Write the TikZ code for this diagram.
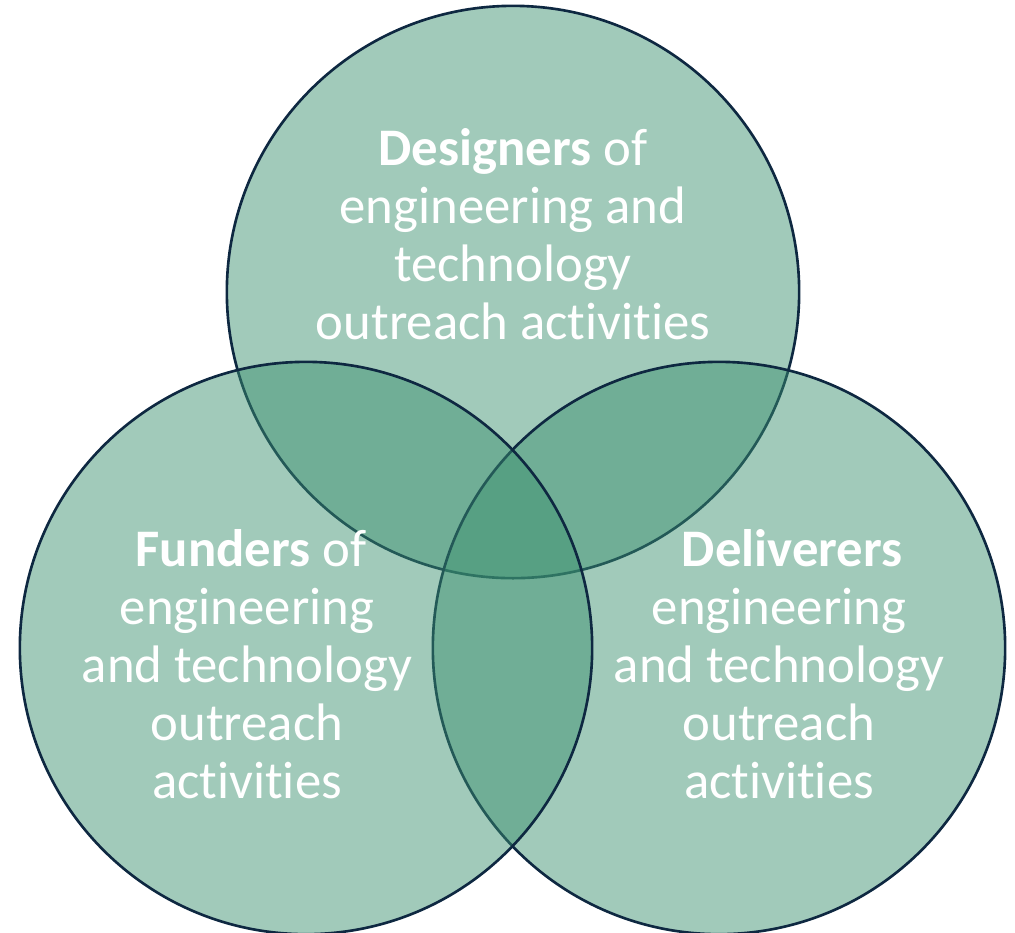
\documentclass[tikz,border=0pt]{standalone}
\usepackage{fontspec}
\setmainfont{Carlito}[Ligatures=NoCommon]
\usetikzlibrary{positioning}
\definecolor{venngreen}{RGB}{59,144,111}
\definecolor{venndark}{RGB}{14,40,65}
\tikzset{
  venn/.style={circle, draw=venndark, line width=0.75pt, fill=venngreen, fill opacity=0.48, minimum size=5.72cm, inner sep=0pt},
  label/.style={align=center, text=white, font=\fontsize{15}{16.5}\selectfont}
}
\begin{document}
\begin{tikzpicture}[x=0.01cm, y=-0.01cm]
    \useasboundingbox (0,0) rectangle (1015,932);

    % circles, left one on top
    \node[venn] (designers) at (513,292) {};
    \node[venn] (deliverers) at (719,648) {};
    \node[venn] (funders) at (306,648) {};

    % texts
    \node[label] (designerstext) at (513,234) {\textbf{Designers} of\\engineering and\\technology\\outreach activities};
    \node[label] (funderstext) at (247,664) {\hspace*{0.15em}\textbf{Funders} of\\engineering\\and technology\\outreach\\activities};
    \node[label] (deliverertext) at (779,664) {\hspace*{0.5em}\textbf{Deliverers}\\engineering\\and technology\\outreach\\activities};
\end{tikzpicture}
\end{document}
